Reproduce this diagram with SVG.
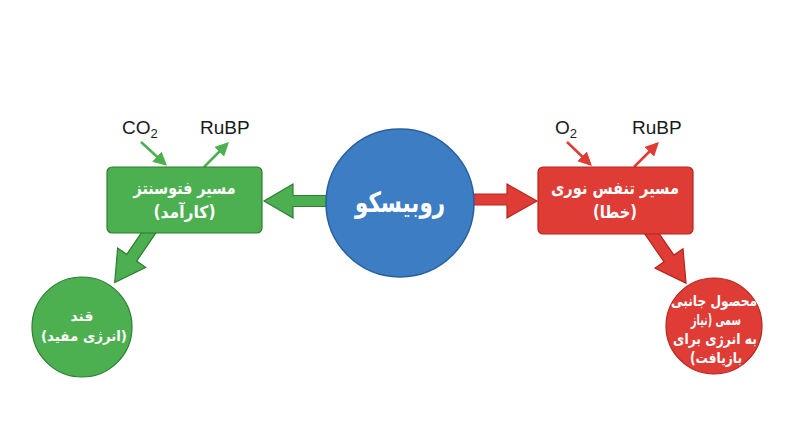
<svg xmlns="http://www.w3.org/2000/svg" width="800" height="447" viewBox="0 0 800 447">
<style>
.lbl{font-family:"Liberation Sans",Arial,sans-serif;font-size:19px;fill:#1a1a1a}
.fa{font-family:"DejaVu Sans",sans-serif;font-weight:bold;fill:#ffffff;text-anchor:middle;direction:rtl}
.g{fill:#4CAF50;stroke:#2E7D32;stroke-width:1.2}
.r{fill:#E03C36;stroke:#B3261E;stroke-width:1.2}
.b{fill:#3D7DC3;stroke:#275E9E;stroke-width:1.5}
.gl{stroke:#4CAF50;stroke-width:2.5;fill:none}
.rl{stroke:#E03C36;stroke-width:2.5;fill:none}
</style>
<defs>
<marker id="mg" viewBox="0 0 10 10" refX="8" refY="5" markerWidth="5.5" markerHeight="5.5" orient="auto" markerUnits="strokeWidth"><path d="M0,0 L10,5 L0,10 z" fill="#4CAF50"/></marker>
<marker id="mr" viewBox="0 0 10 10" refX="8" refY="5" markerWidth="5.5" markerHeight="5.5" orient="auto" markerUnits="strokeWidth"><path d="M0,0 L10,5 L0,10 z" fill="#E03C36"/></marker>
</defs>
<rect width="800" height="447" fill="#ffffff"/>
<g id="connectors">
<polygon class="g" points="330,195.5 293,195.5 293,184 264,201 293,218 293,206.5 330,206.5"/>
<polygon class="r" points="470,194 507,194 507,184 537,201 507,218 507,205 470,205"/>
<polygon class="g" transform="translate(152,228) rotate(124.4)" points="0,-6 36,-6 36,-17 66,0 36,17 36,6 0,6"/>
<polygon class="r" transform="translate(648,228) rotate(55.4)" points="0,-6 37,-6 37,-17 67,0 37,17 37,6 0,6"/>
<line class="gl" x1="141" y1="142" x2="165" y2="164" marker-end="url(#mg)"/>
<line class="gl" x1="204" y1="167" x2="227" y2="144" marker-end="url(#mg)"/>
<line class="rl" x1="567" y1="142" x2="590" y2="164" marker-end="url(#mr)"/>
<line class="rl" x1="634" y1="167" x2="657" y2="144" marker-end="url(#mr)"/>
</g>
<g id="co2"><text class="lbl" x="122" y="134">CO<tspan font-size="13" dy="4">2</tspan></text></g>
<g id="rubp1"><text class="lbl" x="200" y="134">RuBP</text></g>
<g id="o2"><text class="lbl" x="555" y="134">O<tspan font-size="13" dy="4">2</tspan></text></g>
<g id="rubp2"><text class="lbl" x="632" y="134">RuBP</text></g>
<g id="rubisco">
<circle class="b" cx="400" cy="203" r="74"/>
<text class="fa" x="400" y="212" font-size="28" textLength="90" lengthAdjust="spacingAndGlyphs">روبیسکو</text>
</g>
<g id="photosynthesis">
<rect class="g" x="107" y="167" width="155" height="66" rx="5"/>
<text class="fa" x="184.5" y="194" font-size="17" textLength="102" lengthAdjust="spacingAndGlyphs">مسیر فتوسنتز</text>
<text class="fa" x="184.5" y="218" font-size="17" textLength="62" lengthAdjust="spacingAndGlyphs">(کارآمد)</text>
</g>
<g id="photorespiration">
<rect class="r" x="538" y="167" width="155" height="67" rx="5"/>
<text class="fa" x="615" y="194" font-size="17" textLength="128" lengthAdjust="spacingAndGlyphs">مسیر تنفس نوری</text>
<text class="fa" x="615" y="218" font-size="17" textLength="44" lengthAdjust="spacingAndGlyphs">(خطا)</text>
</g>
<g id="sugar">
<circle class="g" cx="82" cy="327" r="50"/>
<text class="fa" x="82" y="321" font-size="14">قند</text>
<text class="fa" x="84" y="341" font-size="14" textLength="86" lengthAdjust="spacingAndGlyphs">(انرژی مفید)</text>
</g>
<g id="byproduct">
<circle class="r" cx="714" cy="326" r="48"/>
<text class="fa" x="714" y="306" font-size="15" textLength="86" lengthAdjust="spacingAndGlyphs">محصول جانبی</text>
<text class="fa" x="716" y="325" font-size="15" textLength="50" lengthAdjust="spacingAndGlyphs">سمی (نیاز</text>
<text class="fa" x="715" y="344" font-size="15" textLength="84" lengthAdjust="spacingAndGlyphs">به انرژی برای</text>
<text class="fa" x="716" y="363" font-size="15" textLength="52" lengthAdjust="spacingAndGlyphs">بازیافت)</text>
</g>
</svg>
